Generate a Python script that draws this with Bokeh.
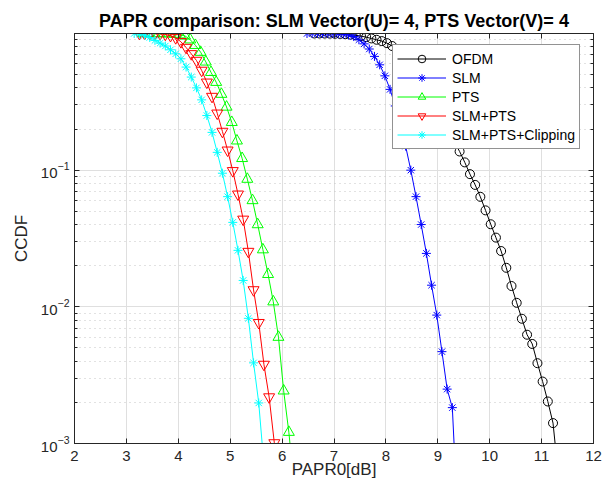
from bokeh.plotting import figure
from bokeh.models import Range1d, LinearAxis, LogAxis, FixedTicker, Legend, LegendItem
from bokeh.embed import file_html
from bokeh.resources import INLINE

# ---------------- data ----------------
ofdm_x = [6.62, 6.72, 6.82, 6.92, 7.02, 7.12, 7.22, 7.32, 7.42, 7.52, 7.62, 7.72,
          7.82, 7.92, 8.02, 8.12, 8.22, 8.32, 8.42, 8.52, 8.62, 8.72, 8.82, 8.92,
          9.02, 9.12, 9.22, 9.32, 9.42, 9.52, 9.62, 9.72, 9.82, 9.92, 10.02, 10.12,
          10.22, 10.32, 10.42, 10.52, 10.62, 10.72, 10.82, 10.92, 11.02, 11.12, 11.22, 11.32]
ofdm_y = [1.0, 1.0, 0.999, 0.998, 0.996, 0.993, 0.989, 0.981, 0.97, 0.957, 0.94, 0.92,
          0.9, 0.88, 0.85, 0.81, 0.75, 0.68, 0.61, 0.54, 0.47, 0.41, 0.355, 0.305,
          0.26, 0.22, 0.188, 0.16, 0.137, 0.114, 0.0935, 0.078, 0.0638, 0.0508, 0.0402, 0.0321,
          0.0256, 0.0193, 0.0142, 0.0107, 0.00818, 0.00625, 0.00535, 0.00387, 0.00284, 0.00203, 0.00141, 0.0006]

slm_x = [6.48, 6.58, 6.68, 6.78, 6.88, 6.98, 7.08, 7.18, 7.28, 7.38, 7.48, 7.58, 7.68,
         7.78, 7.88, 7.98, 8.08, 8.18, 8.28, 8.38, 8.48, 8.58, 8.68, 8.78, 8.88,
         8.98, 9.08, 9.18, 9.28, 9.38]
slm_y = [1.0, 1.0, 1.0, 1.0, 0.999, 0.998, 0.995, 0.99, 0.975, 0.95, 0.9, 0.84, 0.77,
         0.68, 0.59, 0.49, 0.39, 0.295, 0.216, 0.15, 0.1, 0.064, 0.04, 0.0246, 0.0144,
         0.0087, 0.0047, 0.0025, 0.00183, 0.0003]

pts_x = [3.33, 3.43, 3.53, 3.63, 3.73, 3.83, 3.93, 4.03, 4.13, 4.23, 4.33, 4.43,
         4.53, 4.63, 4.73, 4.83, 4.93, 5.03, 5.13, 5.23, 5.33, 5.43, 5.53, 5.63,
         5.73, 5.83, 5.93, 6.03, 6.13, 6.23]
pts_y = [1.0, 1.0, 1.0, 0.999, 0.998, 0.995, 0.99, 0.98, 0.96, 0.9, 0.82, 0.73,
         0.62, 0.52, 0.44, 0.36, 0.29, 0.224, 0.164, 0.122, 0.086, 0.06, 0.04, 0.0262,
         0.0173, 0.0109, 0.006, 0.00243, 0.00121, 0.0005]

slmpts_x = [3.25, 3.35, 3.45, 3.55, 3.65, 3.75, 3.85, 3.95, 4.05, 4.15, 4.25, 4.35,
            4.45, 4.55, 4.65, 4.75, 4.85, 4.95, 5.05, 5.15, 5.25, 5.35, 5.45, 5.55,
            5.65, 5.75, 5.85]
slmpts_y = [1.0, 1.0, 1.0, 0.999, 0.995, 0.985, 0.965, 0.93, 0.87, 0.79, 0.71, 0.635,
            0.537, 0.44, 0.346, 0.261, 0.192, 0.14, 0.099, 0.0667, 0.0437, 0.0254, 0.0133, 0.00766,
            0.00379, 0.00219, 0.00101]

clip_x = [3.15, 3.25, 3.35, 3.45, 3.55, 3.65, 3.75, 3.85, 3.95, 4.05, 4.15, 4.25,
          4.35, 4.45, 4.55, 4.65, 4.75, 4.85, 4.95, 5.05, 5.15, 5.25, 5.35, 5.45,
          5.55, 5.65]
clip_y = [1.0, 0.99, 0.97, 0.935, 0.89, 0.85, 0.81, 0.76, 0.71, 0.653, 0.568, 0.48,
          0.4, 0.327, 0.251, 0.189, 0.135, 0.095, 0.064, 0.0415, 0.0259, 0.0156, 0.00824, 0.00389,
          0.00198, 0.0007]

labels = ["OFDM", "SLM", "PTS", "SLM+PTS", "SLM+PTS+Clipping"]
x_ticks = [2, 3, 4, 5, 6, 7, 8, 9, 10, 11, 12]
y_ticks = [0.001, 0.01, 0.1]
y_minor = [m * d for d in (0.001, 0.01, 0.1) for m in range(2, 10)]

# ---------------- figure ----------------
FONT = "Liberation Sans"
AX = "#262626"

p = figure(width=604, height=486, x_range=Range1d(2, 12), y_range=Range1d(0.001, 1.0),
           y_axis_type="log", output_backend="svg", toolbar_location=None,
           min_border_left=74, min_border_right=11, min_border_top=33, min_border_bottom=43,
           background_fill_color="white", border_fill_color="white")
p.outline_line_color = AX

p.title.text = "PAPR comparison: SLM Vector(U)= 4, PTS Vector(V)= 4"
p.title.text_font = FONT
p.title.text_font_size = "18px"
p.title.text_font_style = "bold"
p.title.text_color = "#000000"
p.title.align = "center"
p.title.standoff = 5

xt = FixedTicker(ticks=x_ticks)
yt = FixedTicker(ticks=y_ticks, minor_ticks=y_minor)
p.xaxis.ticker = xt
p.yaxis.ticker = yt
p.xgrid.ticker = xt
p.ygrid.ticker = yt

for ax in (p.xaxis[0], p.yaxis[0]):
    ax.axis_line_color = AX
    ax.major_tick_line_color = AX
    ax.minor_tick_line_color = AX
    ax.major_tick_in = 5
    ax.major_tick_out = 0
    ax.minor_tick_in = 3
    ax.minor_tick_out = 0
    ax.major_label_text_font = FONT
    ax.major_label_text_font_size = "15px"
    ax.major_label_text_color = AX
    ax.axis_label_text_font = FONT
    ax.axis_label_text_font_size = "17px"
    ax.axis_label_text_font_style = "normal"
    ax.axis_label_text_color = AX
p.xaxis.minor_tick_line_color = None
p.xaxis.axis_label = "PAPR0[dB]"
p.xaxis.major_label_standoff = 7
p.xaxis.axis_label_standoff = -4
p.yaxis.axis_label = "CCDF"
p.yaxis.major_label_standoff = 5
p.yaxis.axis_label_standoff = 7

top_ax = LinearAxis(ticker=xt, major_label_text_font_size="1px", major_label_text_color=None,
                    major_label_standoff=0,
                    major_tick_in=5, major_tick_out=0, minor_tick_line_color=None,
                    axis_line_color=AX, major_tick_line_color=AX)
p.add_layout(top_ax, "above")
right_ax = LogAxis(ticker=yt, major_label_text_font_size="1px", major_label_text_color=None,
                   major_label_standoff=0,
                   major_tick_in=5, major_tick_out=0, minor_tick_in=3, minor_tick_out=0,
                   axis_line_color=AX, major_tick_line_color=AX, minor_tick_line_color=AX)
p.add_layout(right_ax, "right")

p.xgrid.grid_line_color = "#dfdfdf"
p.ygrid.grid_line_color = "#dfdfdf"
p.ygrid.minor_grid_line_color = "#c4c4c4"
p.ygrid.minor_grid_line_dash = "1 4"

series = [
    (ofdm_x, ofdm_y, "#000000", "circle", 9),
    (slm_x, slm_y, "#0000ff", "asterisk", 9),
    (pts_x, pts_y, "#00ff00", "triangle", 11),
    (slmpts_x, slmpts_y, "#ff0000", "inverted_triangle", 11),
    (clip_x, clip_y, "#00ffff", "asterisk", 9),
]

items = []
for (xs, ys, col, mk, sz), lab in zip(series, labels):
    lr = p.line(xs, ys, line_color=col, line_width=1)
    sr = p.scatter(xs, ys, marker=mk, size=sz, line_color=col, line_width=1, fill_color=None)
    items.append(LegendItem(label=lab, renderers=[lr, sr]))

leg = Legend(items=items, location=(318, 294), margin=0, padding=4, spacing=0,
             glyph_width=49, glyph_height=19, label_height=19, label_standoff=6,
             label_text_font=FONT, label_text_font_size="14px", label_text_color="#000000",
             border_line_color=AX, border_line_width=1, background_fill_color="white",
             background_fill_alpha=1.0)
p.add_layout(leg)

open("out.html", "w").write(file_html(p, INLINE))
